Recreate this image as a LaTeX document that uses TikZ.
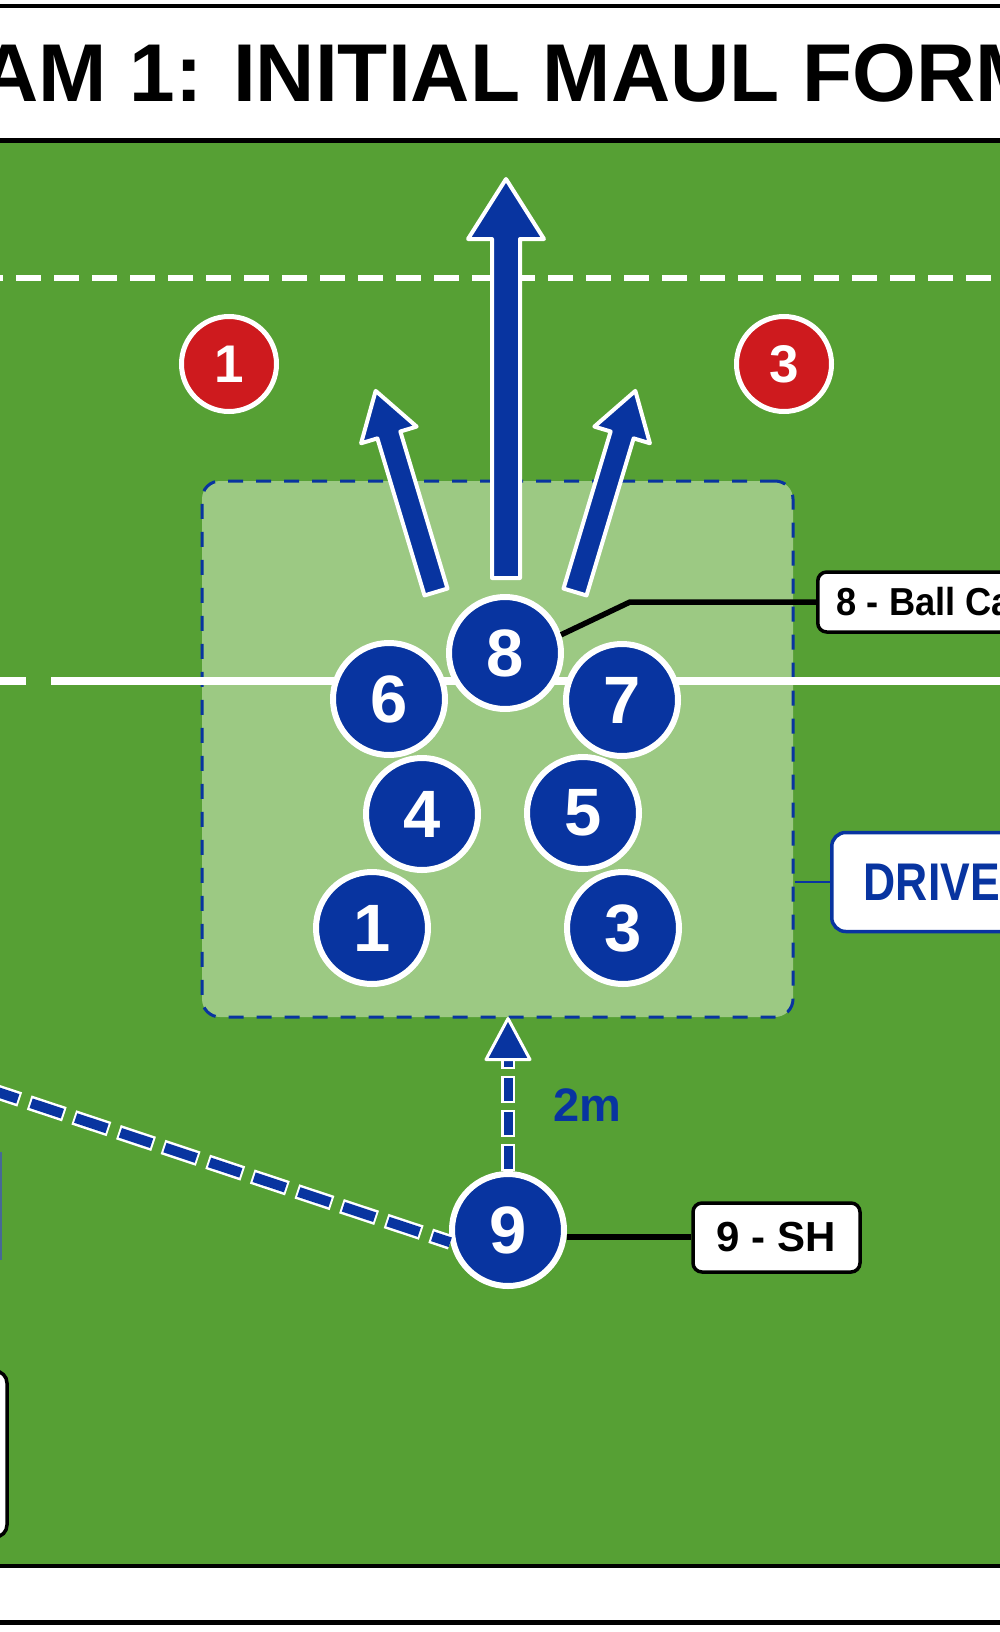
\documentclass[tikz,border=0pt]{standalone}
\usepackage{fontspec}
\setmainfont{Liberation Sans}
\newfontfamily\condfont[FakeStretch=0.84]{Liberation Sans}
\newfontfamily\semicondfont[FakeStretch=0.93]{Liberation Sans}
\usetikzlibrary{calc}
\definecolor{fieldgreen}{RGB}{86,160,52}
\definecolor{zonegreen}{RGB}{156,201,131}
\definecolor{teamblue}{RGB}{8,52,160}
\definecolor{oppred}{RGB}{206,26,30}
\definecolor{stripblue}{RGB}{70,105,150}
\newcommand{\mauldrivearrow}[7]{%
  \draw[arrowbody, shift={(#1,#2)}, rotate=#3]
    (0,-#7) -- (#4-#5,-#7) -- (#4-#5,-#6) -- (#4,0) -- (#4-#5,#6) -- (#4-#5,#7) -- (0,#7) -- cycle;}
\tikzset{
  arrowbody/.style={draw=white, line width=4pt, line join=round, fill=teamblue},
  player/.style={circle, fill=teamblue, draw=white, line width=6pt, minimum size=112pt, inner sep=0pt, text=white, font=\fontsize{67pt}{67pt}\selectfont\bfseries},
  opponent/.style={circle, fill=oppred, draw=white, line width=5pt, minimum size=95pt, inner sep=0pt, text=white, font=\fontsize{53pt}{53pt}\selectfont\bfseries},
  calloutbox/.style={draw=black, line width=3.5pt, fill=white, rounded corners=9pt, inner sep=0pt, font=\fontsize{39pt}{39pt}\selectfont\bfseries},
  leaderline/.style={draw=black, line width=5.5pt},
  passwhite/.style={draw=white, line width=15pt, dash pattern=on 37pt off 10pt},
  passblue/.style={draw=teamblue, line width=10pt, dash pattern=on 0pt off 2pt on 33pt off 12pt},
  shortwhite/.style={draw=white, line width=14pt, dash pattern=on 27pt off 7pt},
  shortblue/.style={draw=teamblue, line width=9pt, dash pattern=on 0pt off 2pt on 23pt off 9pt},
  fieldline/.style={draw=white, line width=8pt},
}
\begin{document}
\begin{tikzpicture}[x=1pt,y=-1pt]
\useasboundingbox (0,0) rectangle (1000,1632);
\clip (0,0) rectangle (1000,1632);
\fill[white] (0,0) rectangle (1000,1632);
\fill[fieldgreen] (-5,140) rectangle (1005,1566);
% field markings
\draw[white, line width=6.5pt, dash pattern=on 25pt off 13pt] (-22,278) -- (1040,278);
% maul zone
\node (zone) [draw=teamblue, line width=3pt, dash pattern=on 15pt off 13pt, fill=zonegreen, rounded corners=18pt, minimum width=591pt, minimum height=536pt, inner sep=0pt] at (497.5,749) {};
\draw[fieldline] (-40,681) -- (26,681);
\draw[fieldline] (51,681) -- (1040,681);
% frame rules
\draw[black, line width=4.5pt] (-5,6) -- (1005,6);
\draw[black, line width=5pt] (-5,140.5) -- (1005,140.5);
\draw[black, line width=4.5pt] (-5,1566) -- (1005,1566);
\draw[black, line width=5pt] (-5,1622.5) -- (1005,1622.5);
% title
\node (title) [anchor=base west, inner sep=0pt, font=\fontsize{82pt}{82pt}\selectfont\bfseries] at (233,102) {\llap{DIAGRAM 1: }INITIAL MAUL FORMATION};
% drive arrows
\mauldrivearrow{506}{578}{90}{399}{60}{38}{14}
\mauldrivearrow{436}{592}{106.7}{210}{46}{29}{12}
\mauldrivearrow{575}{592}{73.3}{210}{46}{29}{12}
% opponents
\node (o1) [opponent] at (229,364) {1};
\node (o3) [opponent] at (784,364) {3};
% pack
\node (p8) [player] at (505,653) {8};
\node (p6) [player] at (389,699) {6};
\node (p7) [player] at (622,700) {7};
\node (p4) [player] at (422,814) {4};
\node (p5) [player] at (583,813) {5};
\node (p1) [player] at (372,928) {1};
\node (p3) [player] at (623,928) {3};
\node (p9) [player] at (508,1230) {9};
% callouts
\node (c8) [calloutbox, anchor=west, minimum height=60pt, inner xsep=19pt, font=\semicondfont\fontsize{39pt}{39pt}\selectfont\bfseries] at (816,602) {8 - Ball Carrier};
\node (c9) [calloutbox, minimum width=167pt, minimum height=69pt, font=\fontsize{42pt}{42pt}\selectfont\bfseries] at (776.5,1237.5) {9 - SH};
\node (drive) [draw=teamblue, line width=3.5pt, fill=white, rounded corners=14pt, anchor=west, minimum height=99pt, inner xsep=32pt, inner ysep=0pt, text=teamblue, font=\condfont\fontsize{53pt}{53pt}\selectfont\bfseries] at (830,882) {DRIVE};
\draw[leaderline] (p8.18) -- ($(c8.west)+(-186,0)$) -- (c8.west);
\draw[leaderline] (p9.-7) -- (p9.-7 -| c9.west);
\draw[teamblue, line width=1.5pt] (zone.east |- drive.west) -- (drive.west);
% 9 to maul distance
\coordinate (tip9) at (p9.north |- zone.south);
\draw[shortwhite] (p9.north) -- ($(tip9)+(0,42)$);
\draw[shortblue] (p9.north) -- ($(tip9)+(0,42)$);
\draw[arrowbody, line width=3pt] (tip9) -- ++(-22,41) -- ++(44,0) -- cycle;
\node (dist) [text=teamblue, font=\fontsize{47pt}{47pt}\selectfont\bfseries] at (587,1105) {2m};
% pass line
\coordinate (passorigin) at (-60,1073);
\draw[passwhite] (passorigin) -- (p9.192);
\draw[passblue] (passorigin) -- (p9.192);
% cut-off elements at left edge
\node (leftstrip) [fill=stripblue, minimum width=12pt, minimum height=108pt, inner sep=0pt] at (-4.5,1206) {};
\node (leftbox) [draw=black, line width=3.5pt, fill=white, rounded corners=12pt, minimum width=130pt, minimum height=166pt, inner sep=0pt] at (-58,1454) {};
\end{tikzpicture}
\end{document}
